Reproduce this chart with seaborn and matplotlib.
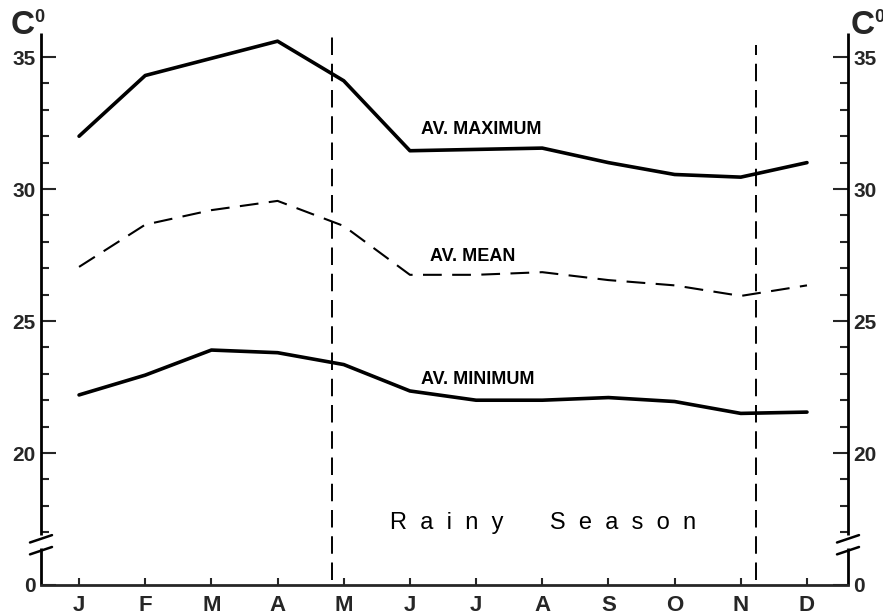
import numpy as np
import pandas as pd
import matplotlib
matplotlib.use("Agg")
import matplotlib.pyplot as plt
import matplotlib.transforms as mtransforms
from matplotlib.ticker import FixedLocator
import seaborn as sns

# ---- data ----
months = ["J", "F", "M", "A", "M", "J", "J", "A", "S", "O", "N", "D"]
av_maximum = [32.0, 34.3, 34.95, 35.6, 34.1, 31.45, 31.5, 31.55, 31.0, 30.55, 30.45, 31.0]
av_mean = [27.05, 28.65, 29.2, 29.55, 28.6, 26.75, 26.75, 26.85, 26.55, 26.35, 25.95, 26.35]
av_minimum = [22.2, 22.95, 23.9, 23.8, 23.35, 22.35, 22.0, 22.0, 22.1, 21.95, 21.5, 21.55]
season_bounds = [3.83, 10.23]          # rainy season start / end (month index)
ytick_values = [15, 20, 25, 30, 35]      # 15 is the broken-axis slot for zero
ytick_labels = ["0", "20", "25", "30", "35"]

sns.set_style("white")
plt.rcParams["font.family"] = ["Liberation Sans", "DejaVu Sans"]

df = pd.DataFrame({
    "idx": list(range(12)) * 3,
    "temp": av_maximum + av_mean + av_minimum,
    "series": ["max"] * 12 + ["mean"] * 12 + ["min"] * 12,
})

fig = plt.figure(figsize=(8.83, 6.15), dpi=100)
ax = fig.add_axes([41 / 883, 1 - 585 / 615, (848 - 41) / 883, (585 - 33) / 615])

ink = "black"
sns.lineplot(data=df[df.series == "max"], x="idx", y="temp", ax=ax, color=ink, lw=2.6)
sns.lineplot(data=df[df.series == "min"], x="idx", y="temp", ax=ax, color=ink, lw=2.6)
sns.lineplot(data=df[df.series == "mean"], x="idx", y="temp", ax=ax, color=ink, lw=1.5,
             dashes=False)
ax.lines[-1].set_dashes([9, 5])

ax.set_xlim(-0.575, 11.62)
ax.set_ylim(15, 35.91)

# rainy season boundaries
ax.vlines(season_bounds[0], 15.2, 35.91, colors=ink, lw=1.4, linestyles=(0, (9, 4.5)))
ax.vlines(season_bounds[1], 15.2, 35.45, colors=ink, lw=1.4, linestyles=(0, (9, 4.5)))

# ticks
ax.set_xticks(range(12))
ax.set_xticklabels(months, fontsize=16, fontweight="bold")
ax.set_yticks(ytick_values)
ax.set_yticklabels(ytick_labels, fontsize=15, fontweight="bold")
ax.yaxis.set_minor_locator(FixedLocator([v for v in range(17, 36) if v % 5 != 0]))
ax.tick_params(axis="x", direction="in", length=5, width=1.5, pad=7, bottom=True)
ax.tick_params(axis="y", which="major", direction="in", length=11, width=1.5, pad=4,
               left=True, right=True, labelleft=True, labelright=True)
ax.tick_params(axis="y", which="minor", direction="in", length=6, width=1.5,
               left=True, right=True)
ax.set_xlabel("")
ax.set_ylabel("")

# spines: bottom solid, sides broken
for s in ["top", "left", "right"]:
    ax.spines[s].set_visible(False)
ax.spines["bottom"].set_linewidth(2)
trans = mtransforms.blended_transform_factory(ax.transAxes, ax.transData)
for xa in (0, 1):
    ax.plot([xa, xa], [15, 16.4], color=ink, lw=2, transform=trans, clip_on=False,
            solid_capstyle="butt")
    ax.plot([xa, xa], [16.9, 35.91], color=ink, lw=2, transform=trans, clip_on=False,
            solid_capstyle="butt")
# break marks
px = 1 / (848 - 41)
for yc in (16.75, 16.3):
    ax.plot([-11 * px, 11 * px], [yc - 0.14, yc + 0.14], color=ink, lw=1.8,
            transform=trans, clip_on=False)
    ax.plot([1 - 11 * px, 1 + 11 * px], [yc - 0.14, yc + 0.14], color=ink, lw=1.8,
            transform=trans, clip_on=False)

# series labels
lab = dict(fontsize=13, fontweight="bold", va="center", ha="left", color=ink)
ax.text(5.16, 32.25, "AV. MAXIMUM", **lab)
ax.text(5.31, 27.45, "AV. MEAN", **lab)
ax.text(5.16, 22.8, "AV. MINIMUM", **lab)
ax.text(4.70, 17.35, "R  a  i  n  y       S  e  a  s  o  n", fontsize=17,
        va="center", ha="left", color=ink)

# unit labels
for xc in (11, 851):
    fig.text(xc / 883, 1 - 34 / 615, "C", fontsize=24, fontweight="bold", ha="left",
             va="baseline")
    fig.text((xc + 23) / 883, 1 - 22 / 615, "0", fontsize=13, fontweight="bold",
             ha="left", va="baseline")

fig.savefig("out.png", dpi=100, facecolor="white")
